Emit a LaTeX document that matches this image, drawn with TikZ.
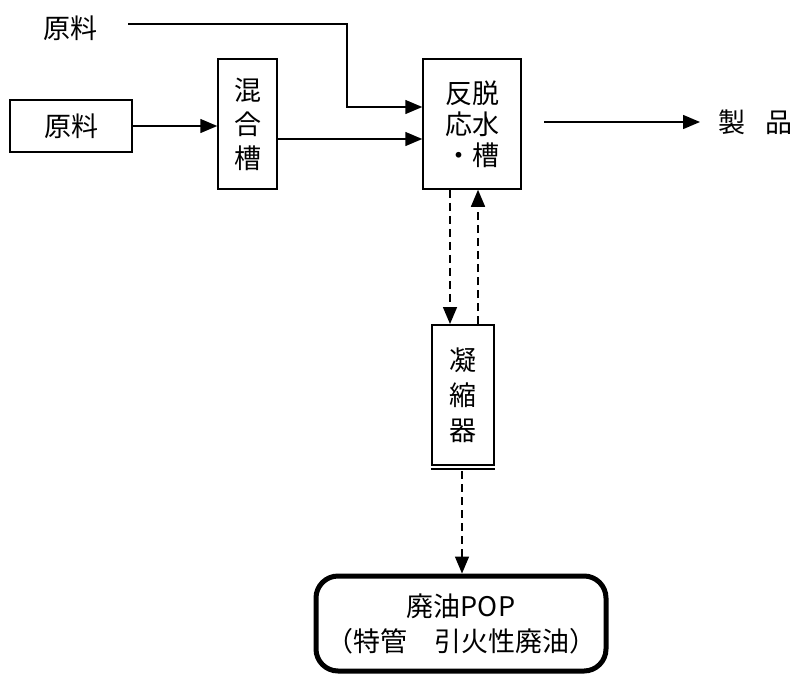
\documentclass[tikz,border=0pt]{standalone}
\usepackage{fontspec}
\setmainfont{Noto Sans CJK JP}
\usetikzlibrary{arrows.meta,calc}
\begin{document}
\begin{tikzpicture}[x=1pt,y=-1pt,
  font=\fontsize{27}{31}\selectfont,
  box/.style={draw,line width=1.5pt,inner sep=0pt,align=center},
  arr/.style={line width=1.5pt,-{Triangle[length=17pt,width=14pt]}},
  darr/.style={line width=1.5pt,dash pattern=on 8pt off 5pt,-{Triangle[length=17pt,width=14pt]}}]
\useasboundingbox (0,0) rectangle (797,675);
% nodes
\node (raw1) at (70,28) {原料};
\node[box,minimum width=122pt,minimum height=52pt] (raw2) at (71,126) {原料};
\node[box,minimum width=59pt,minimum height=130pt,font=\fontsize{27}{34}\selectfont] (mix) at (247.5,124) {混\\合\\槽};
\node[box,minimum width=98pt,minimum height=130pt] (react) at (472,124) {反脱\\応水\\・槽};
\node[anchor=west,inner sep=0pt] (prod) at (718,122) {製\hspace{20pt}品};
\node[box,line width=2pt,minimum width=62pt,minimum height=140pt,font=\fontsize{27}{35}\selectfont] (cond) at (463,395) {凝\\縮\\器};
\node[draw,line width=5pt,rounded corners=22pt,minimum width=290pt,minimum height=95pt,align=center,font=\fontsize{27}{35}\selectfont] (pop) at (461,623.5) {廃油POP\\（特管　引火性廃油）};
% extra bottom line of condenser
\draw[line width=1.2pt] ([yshift=-3pt]cond.south west) -- ([yshift=-3pt]cond.south east);
% coordinates
\coordinate (s1) at (128,24);
\coordinate (k1) at (347,24);
\coordinate (r1) at ([yshift=17pt]react.west);
\coordinate (m1) at ([yshift=-15pt]mix.east);
\coordinate (s2) at (544,122);
\coordinate (p1) at ([xshift=-18pt]prod.west);
\coordinate (d1) at (450,0);
\coordinate (d2) at (478,0);
\coordinate (d3) at (462,0);
\coordinate (c3) at ([yshift=-5pt]cond.south);
% connectors
\draw[arr] (s1) -- (k1) -- (k1 |- r1) -- (r1);
\draw[arr] (raw2.east) -- (mix.west |- raw2.east);
\draw[arr] (m1) -- (react.west |- m1);
\draw[arr] (s2) -- (p1);
\draw[darr] (react.south -| d1) -- (cond.north -| d1);
\draw[darr] (cond.north -| d2) -- (react.south -| d2);
\draw[darr] (c3 -| d3) -- (pop.north -| d3);
\end{tikzpicture}
\end{document}
